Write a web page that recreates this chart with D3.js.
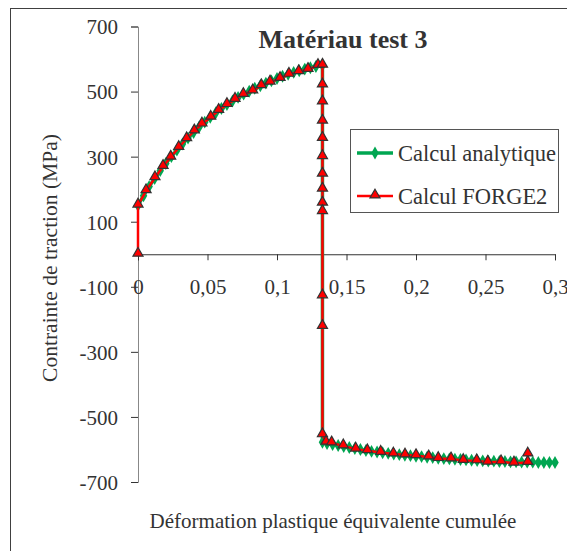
<!DOCTYPE html>
<html>
<head>
<meta charset="utf-8">
<script src="https://cdn.jsdelivr.net/npm/d3@7"></script>
<style>
  body { margin: 0; background: #fff; }
  svg text { font-family: "Liberation Serif", "Times New Roman", serif; fill: #333; }
</style>
</head>
<body>
<script>
// stress vs cumulated plastic strain, two series

const xTicks = [0, 0.05, 0.1, 0.15, 0.2, 0.25, 0.3];
const yTicks = [700, 500, 300, 100, -100, -300, -500, -700];

// Calcul analytique (green diamonds)
const analytX = [0, 0.004, 0.008, 0.012, 0.016, 0.020, 0.024, 0.028, 0.032, 0.036, 0.040, 0.044, 0.048, 0.052,
  0.056, 0.060, 0.064, 0.068, 0.072, 0.076, 0.080, 0.084, 0.088, 0.092, 0.096, 0.100, 0.104, 0.108, 0.112,
  0.116, 0.120, 0.124, 0.128, 0.1327,
  0.1327, 0.136, 0.140, 0.144, 0.148, 0.152, 0.156, 0.160, 0.164, 0.168, 0.172, 0.176, 0.180, 0.184, 0.188,
  0.192, 0.196, 0.200, 0.204, 0.208, 0.212, 0.216, 0.220, 0.224, 0.228, 0.232, 0.236, 0.240, 0.244, 0.248,
  0.252, 0.256, 0.260, 0.264, 0.268, 0.272, 0.276, 0.280, 0.284, 0.288, 0.292, 0.296, 0.300];
const analytY = [150, 180, 208, 233, 257, 279, 300, 320, 339, 357, 374, 391, 406, 421,
  435, 448, 460, 471, 482, 492, 501, 510, 518, 526, 533, 540, 547, 553, 559,
  564, 569, 573, 577, 581,
  -578, -582, -585, -588, -591, -594, -597, -600, -603, -606, -608, -610, -612, -614, -616,
  -618, -619, -621, -622, -624, -625, -627, -628, -629, -630, -631, -632, -633, -634, -635,
  -636, -636, -637, -637, -638, -638, -639, -639, -639, -640, -640, -640, -640];

// Calcul FORGE2 (red triangles)
const forgeX = [0, 0, 0.0058, 0.0122, 0.018, 0.0235, 0.0293, 0.035, 0.0405, 0.046, 0.0523, 0.058, 0.064,
  0.0698, 0.0758, 0.0825, 0.0887, 0.095, 0.1022, 0.1086, 0.1156, 0.1223, 0.1295, 0.1327,
  0.1327, 0.1327, 0.1327, 0.1327, 0.1327, 0.1327, 0.1327, 0.1327, 0.1327, 0.1327, 0.1327, 0.1327,
  0.1353, 0.1393, 0.1477, 0.1566, 0.165, 0.1746, 0.1837, 0.1921, 0.2, 0.2091, 0.216, 0.2252, 0.234,
  0.2437, 0.2516, 0.2612, 0.2705, 0.2804, 0.2804];
const forgeY = [0, 151, 195, 235, 270, 298, 328, 355, 379, 400, 421, 442, 460,
  476, 491, 502, 518, 529, 540, 553, 561, 568, 580, 581,
  520, 468, 409, 356, 300, 246, 200, 157, 131, -128, -222, -555,
  -578, -580, -589, -599, -604, -609, -614, -617, -619, -623, -628, -629, -634,
  -635, -639, -638, -642, -640, -614];

const seriesNames = ['Calcul analytique', 'Calcul FORGE2'];

const width = 567, height = 551;
const green = '#00a651', red = '#ff0000', edge = '#333333';

const svg = d3.select('body').append('svg')
    .attr('width', width)
    .attr('height', height);

// outer chart frame
svg.append('rect')
    .attr('x', 10.5).attr('y', 8.5)
    .attr('width', 600).attr('height', 600)
    .attr('fill', 'none')
    .attr('stroke', '#404040');

let xScale = d3.scaleLinear().domain([0, 0.3]).range([138, 555]);
let yScale = d3.scaleLinear().domain([-700, 700]).range([482, 26.5]);

// y axis
let gy = svg.append('g')
    .attr('transform', 'translate(' + xScale(0) + ',0)')
    .call(d3.axisLeft(yScale).tickValues(yTicks).tickSize(7).tickPadding(13).tickFormat(d => d));
gy.select('.domain').attr('stroke', '#888');
gy.selectAll('.tick line').attr('stroke', '#333');
gy.selectAll('.tick text').style('font-size', '21px').attr('dy', '0.35em');

// x axis (crosses at 0)
let gx = svg.append('g')
    .attr('transform', 'translate(0,' + yScale(0) + ')')
    .call(d3.axisBottom(xScale).tickValues(xTicks).tickSize(6).tickFormat(d => String(d).replace('.', ',')));
gx.select('.domain').attr('stroke', '#333');
gx.selectAll('.tick line').attr('stroke', '#333');
gx.selectAll('.tick text').style('font-size', '21px').attr('y', 40).attr('dy', 0);

let line = d3.line()
    .x(d => xScale(d[0]))
    .y(d => yScale(d[1]));

let analyt = analytX.map((x, i) => [x, analytY[i]]);
let forge = forgeX.map((x, i) => [x, forgeY[i]]);

let diamond = d3.symbol().type(d3.symbolDiamond).size(48);
let triangle = d3.symbol().type(d3.symbolTriangle).size(44);

// green series
svg.append('path')
    .datum(analyt)
    .attr('fill', 'none')
    .attr('stroke', green)
    .attr('stroke-width', 3.5)
    .attr('d', line);
svg.append('g').selectAll('path')
    .data(analyt)
    .enter()
    .append('path')
    .attr('d', diamond)
    .attr('transform', d => 'translate(' + xScale(d[0]) + ',' + yScale(d[1]) + ')')
    .attr('fill', green);

// red series
svg.append('path')
    .datum(forge)
    .attr('fill', 'none')
    .attr('stroke', red)
    .attr('stroke-width', 2.5)
    .attr('d', line);
svg.append('g').selectAll('path')
    .data(forge)
    .enter()
    .append('path')
    .attr('d', triangle)
    .attr('transform', d => 'translate(' + xScale(d[0]) + ',' + (yScale(d[1]) - 1) + ')')
    .attr('fill', red)
    .attr('stroke', edge)
    .attr('stroke-width', 1.2);

// title
svg.append('text')
    .text('Matériau test 3')
    .attr('x', 343).attr('y', 48)
    .attr('text-anchor', 'middle')
    .style('font-size', '26px')
    .style('font-weight', 'bold');

// axis titles
svg.append('text')
    .text('Déformation plastique équivalente cumulée')
    .attr('x', 333).attr('y', 528)
    .attr('text-anchor', 'middle')
    .style('font-size', '21px');

svg.append('text')
    .text('Contrainte de traction (MPa)')
    .attr('transform', 'translate(57,258) rotate(-90)')
    .attr('text-anchor', 'middle')
    .style('font-size', '21.5px');

// legend
let legend = svg.append('g');
legend.append('rect')
    .attr('x', 350.5).attr('y', 129.5)
    .attr('width', 208).attr('height', 83)
    .attr('fill', '#fff')
    .attr('stroke', '#555');

let colors = [green, red];
seriesNames.forEach((name, i) => {
    let ly = 153 + i * 43;
    legend.append('line')
        .attr('x1', 357).attr('x2', 393)
        .attr('y1', ly).attr('y2', ly)
        .attr('stroke', colors[i])
        .attr('stroke-width', i === 0 ? 3.5 : 2.5);
    legend.append('path')
        .attr('d', i === 0 ? diamond : triangle)
        .attr('transform', 'translate(375,' + (i === 0 ? ly : ly - 1) + ')')
        .attr('fill', colors[i])
        .attr('stroke', i === 0 ? 'none' : edge)
        .attr('stroke-width', 1.2);
    legend.append('text')
        .text(name)
        .attr('x', 398).attr('y', ly + 8)
        .style('font-size', '22.5px');
});
</script>
</body>
</html>
